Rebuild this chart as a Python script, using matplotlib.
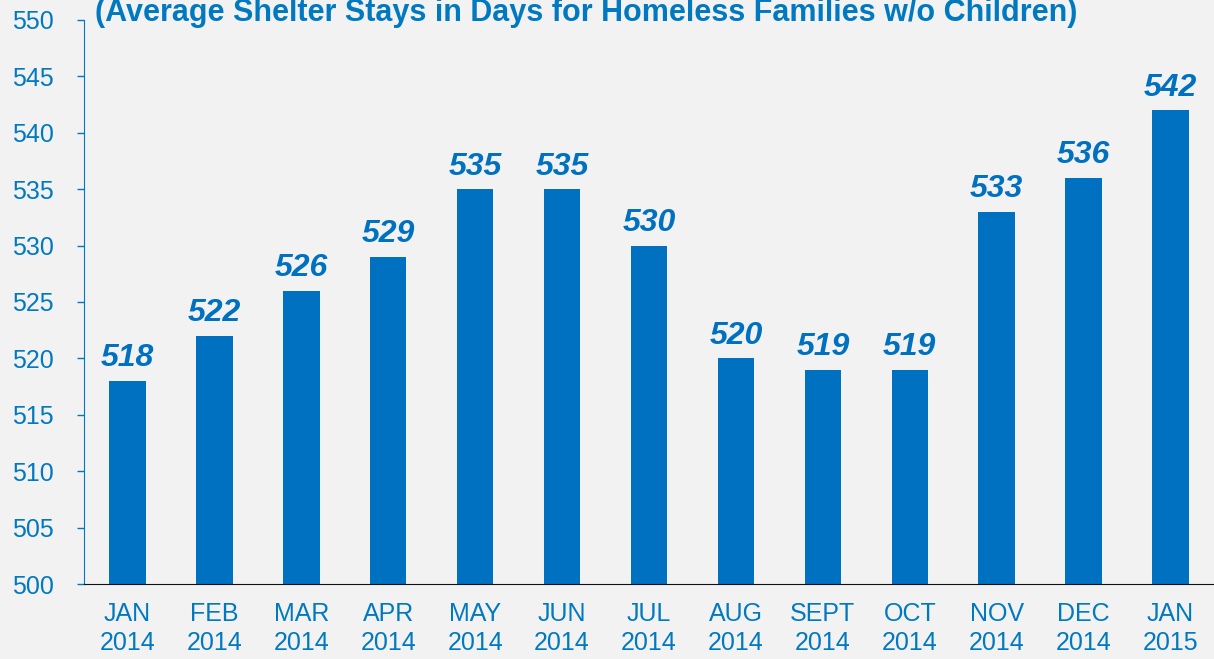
import matplotlib.pyplot as plt

# Average shelter stays (days) for homeless families without children
months = ["JAN\n2014", "FEB\n2014", "MAR\n2014", "APR\n2014", "MAY\n2014", "JUN\n2014",
          "JUL\n2014", "AUG\n2014", "SEPT\n2014", "OCT\n2014", "NOV\n2014", "DEC\n2014",
          "JAN\n2015"]
stays = [518, 522, 526, 529, 535, 535, 530, 520, 519, 519, 533, 536, 542]
y_ticks = list(range(500, 551, 5))

bar_color = "#0070C0"
text_color = "#0079C1"
bg = "#F2F2F2"

plt.rcParams["font.family"] = ["Liberation Sans", "DejaVu Sans"]

fig = plt.figure(figsize=(12.14, 6.59), dpi=100, facecolor=bg)
ax = fig.add_axes([0.0692, 0.1138, 0.9308, 0.8559], facecolor=bg)

x = range(len(months))
ax.bar(x, stays, width=0.42, color=bar_color)

# value labels above bars
for xi, v in zip(x, stays):
    ax.text(xi, v + 1.3, str(v), ha="center", va="baseline", fontsize=23,
            fontweight="bold", fontstyle="italic", color=bar_color)

ax.set_ylim(500, 550)
ax.set_xlim(-0.5, len(months) - 0.5)
ax.set_yticks(y_ticks)
ax.set_xticks(list(x))
ax.set_xticklabels(months, fontsize=18, color=text_color, linespacing=1.25)
ax.tick_params(axis="y", labelsize=18, labelcolor=text_color, color=text_color,
               length=5, width=1, direction="out", pad=17)
ax.tick_params(axis="x", length=0, pad=13)

for side in ["top", "right"]:
    ax.spines[side].set_visible(False)
ax.spines["left"].set_color(text_color)
ax.spines["bottom"].set_color("#111111")

fig.text(0.4827, 0.968, "(Average Shelter Stays in Days for Homeless Families w/o Children)",
         ha="center", va="baseline", fontsize=22, fontweight="bold", color=text_color)

fig.savefig("out.png", dpi=100, facecolor=bg)
